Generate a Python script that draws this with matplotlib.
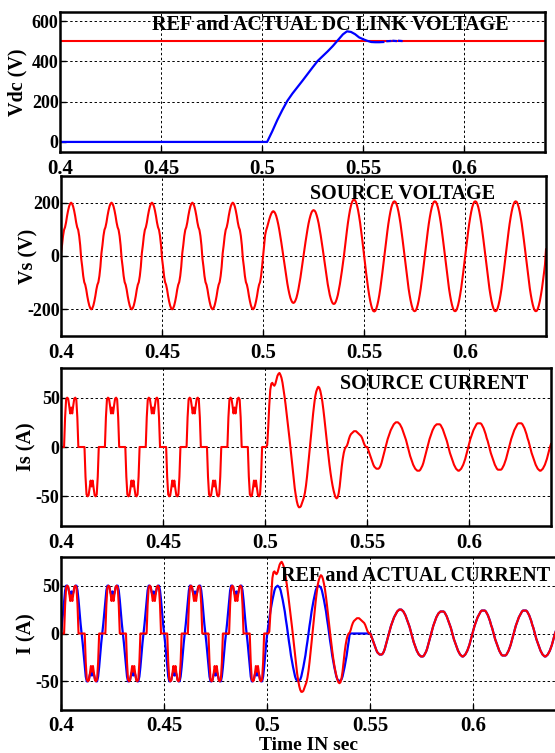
import numpy as np
import matplotlib
matplotlib.use('Agg')
import matplotlib.pyplot as plt

plt.rcParams['font.family'] = ['Liberation Serif', 'DejaVu Serif']
plt.rcParams['font.weight'] = 'bold'

# sampling grid of the simulation traces (0.5 ms steps, 0.40 .. 0.64 s)
t = 0.4 + 0.0005 * np.arange(481)

# ---- DC link voltage (actual, read as breakpoints) and reference ----
vdc_t = [0.400, 0.5025, 0.5050, 0.5075, 0.5100, 0.5125, 0.5150, 0.5175, 0.5200,
         0.5225, 0.5250, 0.5275, 0.5300, 0.5325, 0.5350, 0.5375, 0.5400, 0.5420,
         0.5440, 0.5460, 0.5480, 0.5500, 0.5520, 0.5540, 0.5560, 0.5580, 0.5600,
         0.5605, 0.5620, 0.5635, 0.5640, 0.5650, 0.5662, 0.5666, 0.5678, 0.5690]
vdc_v = [0, 0, 52, 108, 158, 204, 240, 272, 304,
         337, 370, 402, 426, 450, 476, 505, 534, 549,
         546, 535, 519, 510, 502, 496, 495, 495, 496,
         np.nan, 500, 501, np.nan, 502, 501, np.nan, 502, 501]
vdc_ref_t = [0.40, 0.64]
vdc_ref_v = [500, 500]

# ---- source voltage, one row per 20 ms cycle ----
vs_pre = [10, 40, 75, 98, 108, 126, 150, 170, 186, 196, 200, 196, 186, 170, 150, 126, 108, 98, 75, 40,
          -10, -40, -75, -98, -108, -126, -150, -170, -186, -196, -200, -196, -186, -170, -150, -126, -108, -98, -75, -40]
vs_c5 = [0, 40, 78, 96, 108, 122, 136, 148, 158, 165, 168, 166, 160, 150, 136, 119, 99, 76, 52, 26,
         0, -27, -54, -80, -103, -124, -142, -157, -167, -174, -176, -174, -167, -157, -142, -124, -103, -80, -54, -27]
vs_c6 = [0, 27, 53, 78, 101, 122, 139, 153, 164, 170, 172, 170, 164, 153, 139, 122, 101, 78, 53, 27,
         0, -28, -56, -82, -106, -127, -146, -160, -171, -178, -180, -178, -171, -160, -146, -127, -106, -82, -56, -28]
vs_c7 = [0, 33, 66, 96, 125, 150, 172, 189, 202, 209, 212, 209, 202, 189, 172, 150, 125, 96, 66, 33,
         0, -32, -64, -94, -122, -147, -168, -185, -198, -206, -208, -206, -198, -185, -168, -147, -122, -94, -64, -32]
vs_post = [0, 32, 63, 93, 121, 145, 166, 183, 195, 203, 205, 203, 195, 183, 166, 145, 121, 93, 63, 32,
           0, -32, -64, -94, -122, -146, -167, -184, -197, -205, -207, -205, -197, -184, -167, -146, -122, -94, -64, -32]
vs_end = [25]

# ---- source (actual) current ----
is_pre = [0, 0, 0, 0, 30, 48, 50, 49, 42, 34, 40, 34, 42, 49, 50, 48, 30, 0, 0, 0,
          0, 0, 0, 0, -30, -48, -50, -49, -42, -34, -40, -34, -42, -49, -50, -48, -30, 0, 0, 0]
is_c5 = [0, 0, 2, 20, 42, 58, 64, 65, 63, 62, 64, 68, 72, 74, 75, 73, 70, 65, 58, 51,
         43, 34, 25, 16, 7, -3, -13, -23, -33, -42, -49, -55, -59, -61, -61, -60, -57, -54, -51, -46]
is_c6 = [-39, -30, -20, -9, 2, 13, 24, 34, 43, 51, 56, 59, 61, 60, 57, 52, 46, 38, 29, 19,
         9, 0, -9, -18, -26, -33, -39, -44, -48, -51, -52, -51, -47, -40, -30, -20, -12, -6, -2, 0]
is_c7 = [1, 4, 8, 11, 13, 14, 15, 16, 16, 16, 15, 14, 13, 12, 11, 9, 6, 3, 1, 0,
         0, -3, -6, -9, -12, -15, -18, -20, -21, -22, -22, -22, -21, -19, -16, -12, -8, -4, 0, 4]
is_c8 = [8, 11, 14, 17, 19, 21, 23, 24, 25, 25, 25, 24, 23, 21, 19, 16, 13, 10, 7, 3,
         -1, -5, -9, -12, -15, -18, -20, -22, -23, -24, -24, -24, -23, -21, -19, -16, -12, -8, -4, 0]
is_c9 = [4, 8, 11, 14, 17, 19, 21, 22, 23, 23, 23, 23, 22, 20, 18, 15, 12, 9, 6, 2,
         -2, -6, -9, -12, -15, -18, -20, -22, -23, -24, -24, -23, -22, -20, -18, -15, -12, -8, -4, 0]
is_c10 = [4, 8, 11, 14, 17, 19, 21, 23, 24, 24, 24, 24, 23, 21, 19, 16, 13, 9, 6, 2,
          -2, -6, -9, -12, -15, -18, -20, -22, -23, -23, -23, -23, -22, -20, -18, -15, -12, -8, -4, 0]
is_c11 = [4, 8, 11, 14, 17, 19, 21, 23, 24, 24, 24, 24, 23, 21, 19, 16, 13, 9, 6, 2,
          -2, -6, -9, -12, -15, -18, -20, -22, -23, -24, -24, -23, -22, -20, -18, -15, -12, -8, -4, 0]
is_end = [3]

# ---- reference current ----
iref_pre = [0, 10, 22, 35, 45, 50, 50, 48, 43, 40, 44, 40, 43, 48, 50, 50, 45, 35, 22, 10,
            0, -10, -22, -35, -45, -50, -50, -48, -43, -40, -44, -40, -43, -48, -50, -50, -45, -35, -22, -10]
iref_sine = [0, 8, 15, 23, 29, 35, 40, 45, 48, 49, 50, 49, 48, 45, 40, 35, 29, 23, 15, 8,
             0, -8, -15, -23, -29, -35, -40, -45, -48, -49, -50, -49, -48, -45, -40, -35, -29, -23, -15, -8]
iref_c7 = [0, 0, 0, 0, 0, 0, 0, 0, 0, 0, 0, 0, 0, 0, 0, 0, 0, 0, 0, 0,
           0, -3, -6, -9, -12, -15, -18, -20, -21, -22, -22, -22, -21, -19, -16, -12, -8, -4, 0, 4]

vs = np.concatenate([vs_pre] * 5 + [vs_c5, vs_c6, vs_c7] + [vs_post] * 4 + [vs_end])
i_src = np.concatenate([is_pre] * 5 + [is_c5, is_c6, is_c7, is_c8, is_c9, is_c10, is_c11, is_end])
i_ref = np.concatenate([iref_pre] * 5 + [iref_sine, iref_sine, iref_c7,
                                         is_c8, is_c9, is_c10, is_c11, is_end])

W, H = 555.0, 753.0
fig = plt.figure(figsize=(W / 100, H / 100), dpi=100)

# axes boxes in pixels: left, right, top, bottom
boxes = [(60, 545, 12, 152), (61, 546, 176, 336), (61, 551, 368, 526), (61, 556, 557, 710)]
axes = []
for l, r, tp, b in boxes:
    axes.append(fig.add_axes([l / W, 1 - b / H, (r - l) / W, (b - tp) / H]))

ax1, ax2, ax3, ax4 = axes

ax1.plot(vdc_ref_t, vdc_ref_v, color='red', lw=1.5)
ax1.plot(vdc_t, vdc_v, color='blue', lw=1.6)
ax2.plot(t, vs, color='red', lw=1.5)
ax3.plot(t, i_src, color='red', lw=1.5)
ax4.plot(t, i_ref, color='blue', lw=1.6)
ax4.plot(t, i_src, color='red', lw=1.5)

ylims = [(-50, 645), (-300, 300), (-80, 80), (-80, 80)]
yticks = [[0, 200, 400, 600], [-200, 0, 200], [-50, 0, 50], [-50, 0, 50]]
ylabels = ['Vdc (V)', 'Vs (V)', 'Is (A)', 'I (A)']
ylab_x = [-0.087, -0.068, -0.071, -0.069]
titles = ['REF and ACTUAL DC LINK VOLTAGE', 'SOURCE VOLTAGE', 'SOURCE CURRENT', 'REF and ACTUAL CURRENT']
title_pos = [(0.19, 0.907), (0.514, 0.89), (0.57, 0.90), (0.444, 0.876)]
xt = [0.4, 0.45, 0.5, 0.55, 0.6]

for i, ax in enumerate(axes):
    ax.set_xlim(0.4, 0.64)
    ax.set_ylim(*ylims[i])
    ax.set_xticks(xt)
    ax.set_xticklabels(['0.4', '0.45', '0.5', '0.55', '0.6'], fontsize=15, fontweight='bold')
    ax.set_yticks(yticks[i])
    ax.set_yticklabels([str(v) for v in yticks[i]], fontsize=13, fontweight='bold')
    ax.tick_params(direction='in', length=4, width=1, pad=1, axis='y')
    ax.tick_params(direction='in', length=4, width=1, pad=4 if i == 3 else 5, axis='x')
    ax.grid(True, color='black', linestyle=(0, (2.5, 2.5)), linewidth=0.7)
    for s in ax.spines.values():
        s.set_linewidth(1.8)
    ax.set_ylabel(ylabels[i], fontsize=14.5, fontweight='bold')
    ax.yaxis.label.set_va('center')
    ax.yaxis.set_label_coords(ylab_x[i], 0.5)
    ax.text(title_pos[i][0], title_pos[i][1], titles[i], transform=ax.transAxes,
            fontsize=14.5, fontweight='bold', ha='left', va='center', zorder=5)

fig.text(0.555, 1 - 745.5 / H, 'Time IN sec', fontsize=14, fontweight='bold',
         ha='center', va='center')

fig.savefig('out.png', dpi=100)
